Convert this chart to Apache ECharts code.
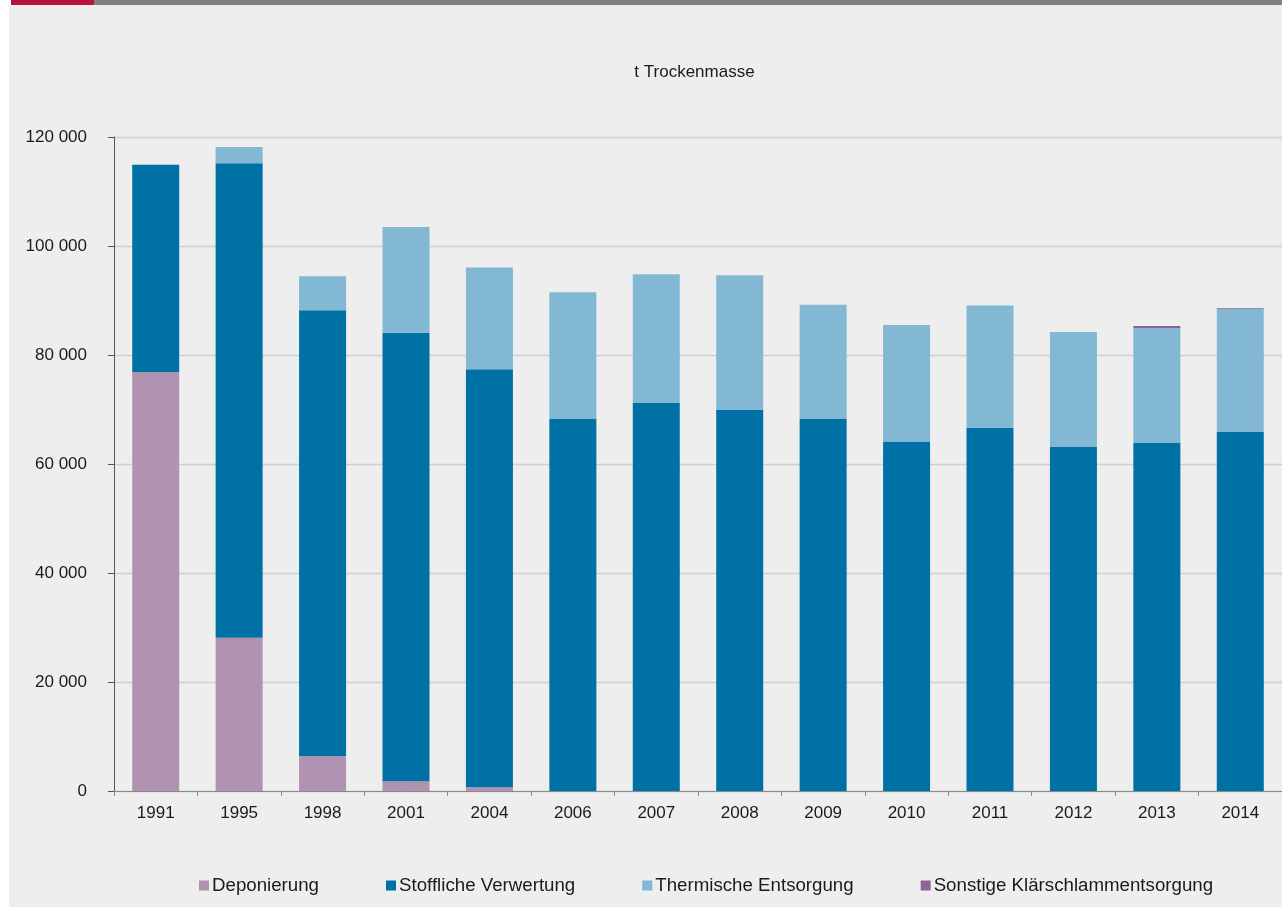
<!DOCTYPE html>
<html>
<head>
<meta charset="utf-8">
<script src="https://cdn.jsdelivr.net/npm/echarts@6/dist/echarts.min.js"></script>
<style>
  html, body { margin: 0; padding: 0; background: #ffffff; overflow: hidden; }
  #wrap { position: relative; width: 1282px; height: 908px; overflow: hidden; }
  #bg { position: absolute; left: 9px; top: 5px; width: 1273px; height: 902px; background: #edeeed; }
  #barRed { position: absolute; left: 11px; top: 0; width: 83px; height: 5px; background: #b8123f; }
  #barGrey { position: absolute; left: 94px; top: 0; width: 1188px; height: 5px; background: #808080; }
  #chart { position: absolute; left: 0; top: 0; width: 1282px; height: 908px; }
</style>
</head>
<body>
<div id="wrap">
  <div id="bg"></div>
  <div id="barRed"></div>
  <div id="barGrey"></div>
  <div id="chart"></div>
</div>
<script>
// ---- data ----
const years = ['1991','1995','1998','2001','2004','2006','2007','2008','2009','2010','2011','2012','2013','2014'];
const deponierung = [76900, 28100, 6400, 1800, 700, null, null, null, null, null, null, null, null, null];
const stofflicheVerwertung = [38000, 87100, 81800, 82300, 76700, 68250, 71200, 69900, 68250, 64150, 66650, 63100, 63850, 65850];
const thermischeEntsorgung = [null, 2950, 6250, 19400, 18650, 23250, 23600, 24750, 20950, 21350, 22450, 21100, 21100, 22650];
const sonstigeEntsorgung = [null, null, null, null, null, null, null, null, null, null, null, null, 350, 130];
const seriesNames = ['Deponierung', 'Stoffliche Verwertung', 'Thermische Entsorgung', 'Sonstige Klärschlammentsorgung'];
const yTicks = { min: 0, max: 120000, interval: 20000 };
const unitLabel = 't Trockenmasse';

const colors = ['#af93b0', '#0071a4', '#82b8d4', '#8c6496'];
const font = 'Arial, "Liberation Sans", sans-serif';

function fmt(v) {
  return String(v).replace(/\B(?=(\d{3})+(?!\d))/g, ' ');
}

const chart = echarts.init(document.getElementById('chart'), null, { renderer: 'canvas' });

const dataArrays = [deponierung, stofflicheVerwertung, thermischeEntsorgung, sonstigeEntsorgung];

chart.setOption({
  backgroundColor: 'transparent',
  animation: false,
  textStyle: { fontFamily: font },
  graphic: [{
    type: 'text',
    x: 694.5,
    y: 72.5,
    style: {
      text: unitLabel,
      fill: '#1a1a1a',
      font: '17px ' + font,
      textAlign: 'center',
      textVerticalAlign: 'middle'
    }
  }],
  legend: {
    data: seriesNames,
    left: 199,
    top: 876,
    padding: 0,
    itemWidth: 10,
    itemHeight: 10,
    itemGap: 67,
    icon: 'rect',
    textStyle: { fontSize: 18.7, color: '#1a1a1a', fontFamily: font, padding: [0, 0, 0, -2] }
  },
  grid: { left: 114, top: 137, width: 1176, height: 654, containLabel: false },
  xAxis: {
    type: 'category',
    data: years,
    boundaryGap: true,
    axisLine: { show: true, lineStyle: { color: '#8a8a8a', width: 1 } },
    axisTick: { show: true, length: 5, inside: false, lineStyle: { color: '#8a8a8a' } },
    axisLabel: { fontSize: 17, color: '#1a1a1a', margin: 14, fontFamily: font },
    splitLine: { show: false }
  },
  yAxis: {
    type: 'value',
    min: yTicks.min,
    max: yTicks.max,
    interval: yTicks.interval,
    axisLine: { show: true, lineStyle: { color: '#555555', width: 1 } },
    axisTick: { show: true, length: 6, inside: false, lineStyle: { color: '#555555' } },
    axisLabel: { fontSize: 17, color: '#1a1a1a', margin: 27, fontFamily: font, formatter: (v) => fmt(v) },
    splitLine: { show: true, lineStyle: { color: '#cfcfcf', width: 1.3 } }
  },
  series: seriesNames.map((name, i) => ({
    name: name,
    type: 'bar',
    stack: 'total',
    barWidth: 47,
    data: dataArrays[i],
    itemStyle: { color: colors[i] },
    emphasis: { disabled: true }
  }))
});
</script>
</body>
</html>
